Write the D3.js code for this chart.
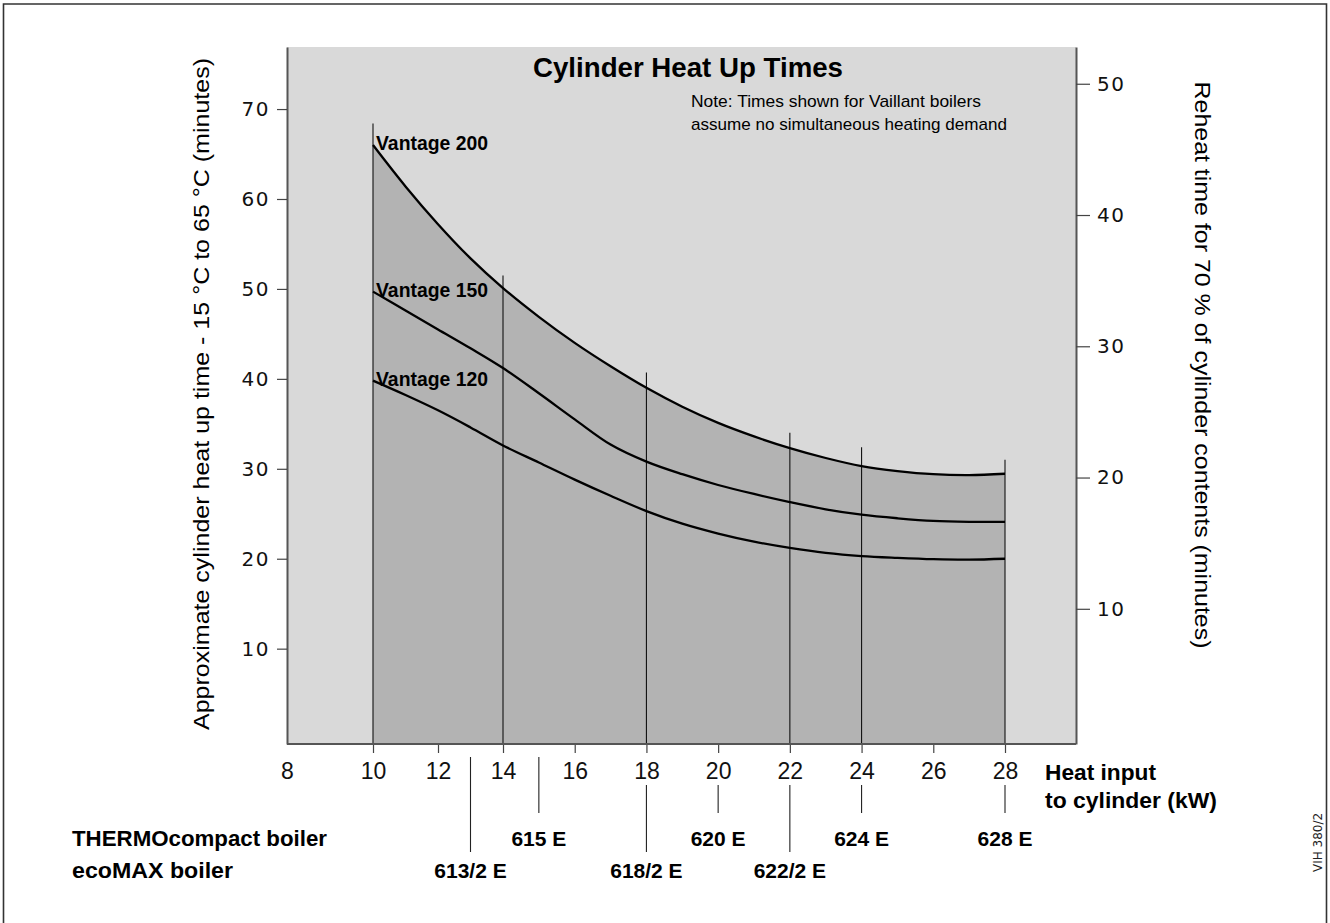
<!DOCTYPE html>
<html><head><meta charset="utf-8">
<script src="https://cdn.jsdelivr.net/npm/d3@7"></script>
<style>body{margin:0;background:#fff}svg{display:block}</style>
</head><body>
<svg id="c" width="1330" height="923"></svg>
<script>
// ---- data ----
const kW = [10,11,12,13,14,15,16,17,18,19,20,21,22,23,24,25,26,27,28];
const vantage200 = [66.0,61.4,57.2,53.4,50.1,46.9,44.0,41.4,39.0,36.9,35.1,33.6,32.3,31.2,30.3,29.75,29.4,29.3,29.45];
const vantage150 = [49.7,47.6,45.5,43.4,41.2,38.4,35.5,32.7,30.8,29.4,28.2,27.2,26.3,25.5,24.9,24.5,24.2,24.1,24.1];
const vantage120 = [39.8,38.2,36.5,34.6,32.6,30.7,28.8,27.0,25.3,23.9,22.8,21.9,21.2,20.65,20.3,20.1,19.95,19.9,20.0];
const seriesNames = ["Vantage 200","Vantage 150","Vantage 120"];
const markerKW = [10,14,18,22,24,28];
const markerTop = [68.4,51.5,40.7,34.0,32.4,31.0];
const xTicks = [8,10,12,14,16,18,20,22,24,26,28];
const leftTicks = [10,20,30,40,50,60,70];
const rightTicks = [10,20,30,40,50];
const thermoLabels = ["615 E","620 E","624 E","628 E"];
const thermoKW = [15,20,24,28];
const ecoLabels = ["613/2 E","618/2 E","622/2 E"];
const ecoKW = [13,18,22];

// ---- layout ----
const P = {left:287, right:1076, top:47, bottom:744};
const svg = d3.select("#c");
const SANS = "'Liberation Sans', Arial, Helvetica, sans-serif";
const WIDE = "'DejaVu Sans', Verdana, sans-serif";

const x = d3.scaleLinear().domain([8,10,14,28]).range([P.left, 373, 503, 1005]);
const yL = d3.scaleLinear().domain([-0.6,76.9]).range([P.bottom,P.top]);
const yR = d3.scaleLinear().domain([-0.3,52.8]).range([P.bottom,P.top]);

// outer frame
svg.append("path").attr("d","M3.5,930V4H1326.5V930")
  .attr("fill","none").attr("stroke","#333").attr("stroke-width",1.6);

// plot background
svg.append("rect").attr("x",P.left).attr("y",P.top)
  .attr("width",P.right-P.left).attr("height",P.bottom-P.top).attr("fill","#d9d9d9");

const s200 = kW.map((k,i)=>({k, v:vantage200[i]}));
const s150 = kW.map((k,i)=>({k, v:vantage150[i]}));
const s120 = kW.map((k,i)=>({k, v:vantage120[i]}));
const curve = d3.curveCatmullRom.alpha(0.5);

svg.append("path").datum(s200)
  .attr("d", d3.area().x(d=>x(d.k)).y0(P.bottom).y1(d=>yL(d.v)).curve(curve))
  .attr("fill","#b3b3b3");

// marker verticals
svg.append("g").selectAll("line").data(markerKW).join("line")
  .attr("x1",d=>x(d)).attr("x2",d=>x(d))
  .attr("y1",P.bottom).attr("y2",(d,i)=>yL(markerTop[i]))
  .attr("stroke","#111").attr("stroke-width",1.1);

// curves
const line = d3.line().x(d=>x(d.k)).y(d=>yL(d.v)).curve(curve);
[s200,s150,s120].forEach(s=>{
  svg.append("path").datum(s).attr("d",line)
    .attr("fill","none").attr("stroke","#000").attr("stroke-width",2.3);
});
// series labels
[s200,s150,s120].forEach((s,i)=>{
  svg.append("text").attr("x",x(s[0].k)+3).attr("y",yL(s[0].v)+5)
    .attr("font-family",SANS).attr("font-weight","bold").attr("font-size",19.5)
    .attr("textLength",112).attr("lengthAdjust","spacingAndGlyphs")
    .text(seriesNames[i]);
});

// axes
function styleAxis(g, fontFamily, fontSize){
  g.selectAll(".domain").attr("stroke","#555").attr("stroke-width",2);
  g.selectAll(".tick line").attr("stroke","#444").attr("stroke-width",1.2);
  g.selectAll(".tick text").attr("font-family",fontFamily).attr("font-size",fontSize).attr("fill","#111");
}
const gL = svg.append("g").attr("transform",`translate(${P.left},0)`)
  .call(d3.axisLeft(yL).tickValues(leftTicks).tickSize(10).tickPadding(7).tickSizeOuter(0));
styleAxis(gL, WIDE, 20);
gL.selectAll(".tick text").attr("letter-spacing",1.5);

const gR = svg.append("g").attr("transform",`translate(${P.right},0)`)
  .call(d3.axisRight(yR).tickValues(rightTicks).tickSize(14).tickPadding(7).tickSizeOuter(0));
styleAxis(gR, WIDE, 20);
gR.selectAll(".tick text").attr("letter-spacing",1.5);

const gB = svg.append("g").attr("transform",`translate(0,${P.bottom})`)
  .call(d3.axisBottom(x).tickValues(xTicks).tickSize(9).tickPadding(10).tickSizeOuter(0));
styleAxis(gB, SANS, 23);
gB.select(".domain").remove();
gB.selectAll(".tick").filter(d=>d===8).select("line").remove();
svg.append("line").attr("x1",P.left).attr("x2",P.right).attr("y1",P.bottom).attr("y2",P.bottom)
  .attr("stroke","#555").attr("stroke-width",2);

// titles
svg.append("text").attr("x",688).attr("y",77).attr("text-anchor","middle")
  .attr("font-family",SANS).attr("font-weight","bold").attr("font-size",28)
  .attr("textLength",310).attr("lengthAdjust","spacingAndGlyphs")
  .text("Cylinder Heat Up Times");
svg.append("text").attr("x",691).attr("y",107)
  .attr("font-family",SANS).attr("font-size",17)
  .attr("textLength",290).attr("lengthAdjust","spacingAndGlyphs")
  .text("Note: Times shown for Vaillant boilers");
svg.append("text").attr("x",691).attr("y",130)
  .attr("font-family",SANS).attr("font-size",17)
  .attr("textLength",316).attr("lengthAdjust","spacingAndGlyphs")
  .text("assume no simultaneous heating demand");

svg.append("text").attr("transform","translate(209,394) rotate(-90)").attr("text-anchor","middle")
  .attr("font-family",SANS).attr("font-size",22)
  .attr("textLength",672).attr("lengthAdjust","spacingAndGlyphs")
  .text("Approximate cylinder heat up time - 15 °C to 65 °C (minutes)");
svg.append("text").attr("transform","translate(1195,365) rotate(90)").attr("text-anchor","middle")
  .attr("font-family",SANS).attr("font-size",22)
  .attr("textLength",567).attr("lengthAdjust","spacingAndGlyphs")
  .text("Reheat time for 70 % of cylinder contents (minutes)");

svg.append("text").attr("x",1045).attr("y",780)
  .attr("font-family",SANS).attr("font-weight","bold").attr("font-size",22)
  .attr("textLength",111).attr("lengthAdjust","spacingAndGlyphs").text("Heat input");
svg.append("text").attr("x",1045).attr("y",808)
  .attr("font-family",SANS).attr("font-weight","bold").attr("font-size",22)
  .attr("textLength",172).attr("lengthAdjust","spacingAndGlyphs").text("to cylinder (kW)");

// boiler rows
const rowLabel = (t,y,w)=>svg.append("text").attr("x",72).attr("y",y)
  .attr("font-family",SANS).attr("font-weight","bold").attr("font-size",22)
  .attr("textLength",w).attr("lengthAdjust","spacingAndGlyphs").text(t);
rowLabel("THERMOcompact boiler",846,255);
rowLabel("ecoMAX boiler",878,161);

function boilerRow(kws, labels, lineBottom, baseline){
  const g = svg.append("g");
  g.selectAll("line").data(kws).join("line")
    .attr("x1",d=>x(d)).attr("x2",d=>x(d))
    .attr("y1",d=>xTicks.includes(d)?785:757).attr("y2",lineBottom)
    .attr("stroke","#222").attr("stroke-width",1.1);
  g.selectAll("text").data(kws).join("text")
    .attr("x",d=>x(d)).attr("y",baseline).attr("text-anchor","middle")
    .attr("font-family",SANS).attr("font-weight","bold").attr("font-size",21)
    .text((d,i)=>labels[i]);
}
boilerRow(thermoKW, thermoLabels, 813, 846);
boilerRow(ecoKW, ecoLabels, 852, 878);

svg.append("text").attr("transform","translate(1322,872) rotate(-90)")
  .attr("font-family",WIDE).attr("font-size",12).attr("fill","#222").text("VIH 380/2");
</script>
</body></html>
